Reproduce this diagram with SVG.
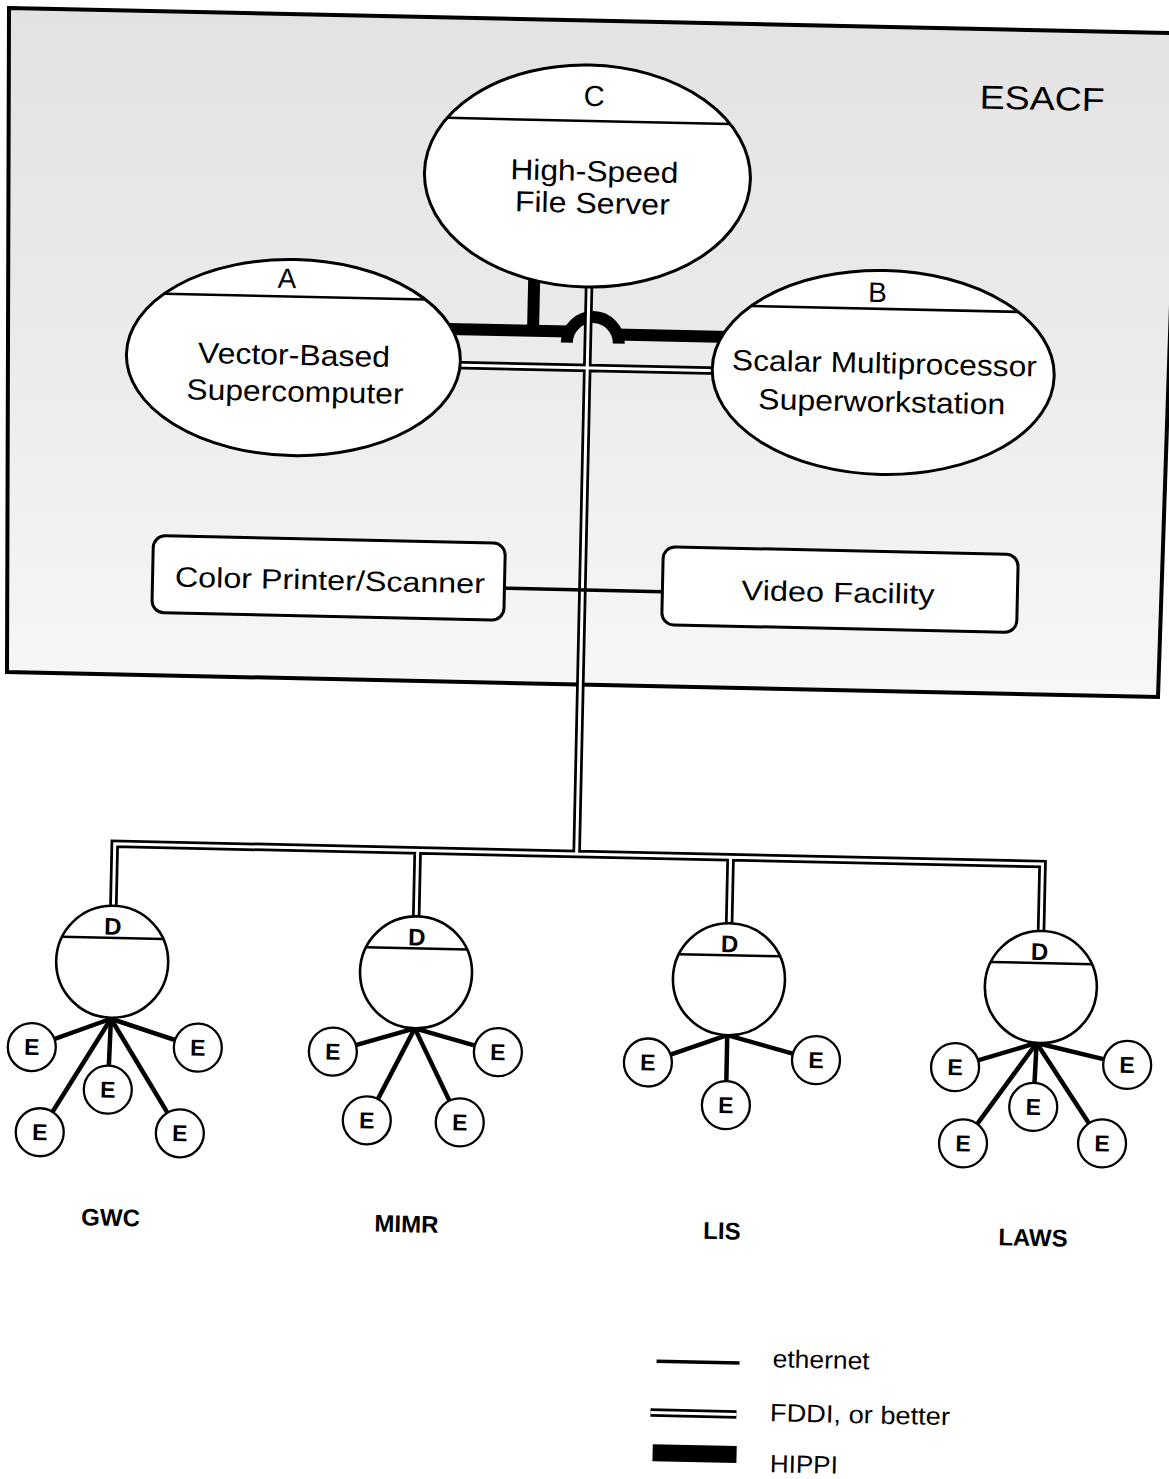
<svg xmlns="http://www.w3.org/2000/svg" width="1169" height="1479" viewBox="0 0 1169 1479">
<defs>
<linearGradient id="bg" x1="0" y1="0" x2="0" y2="1">
<stop offset="0" stop-color="#e2e2e2"/>
<stop offset="0.55" stop-color="#ececec"/>
<stop offset="1" stop-color="#f7f7f7"/>
</linearGradient>
<style>
.node{fill:#fff;stroke:#000;stroke-width:3}
.div{stroke:#000;stroke-width:2.5}
.t{font-family:"Liberation Sans",Arial,sans-serif;fill:#000;text-anchor:middle}
.tl{font-family:"Liberation Sans",Arial,sans-serif;fill:#000}
.b{font-weight:bold}
.fddiO{fill:none;stroke:#000;stroke-width:8.5}
.fddiI{fill:none;stroke:#fff;stroke-width:3}
.hippi{fill:none;stroke:#000;stroke-width:12}
.eth{fill:none;stroke:#000;stroke-width:3.5}
.spoke{stroke:#000;stroke-width:4.5}
.dc{fill:#fff;stroke:#000;stroke-width:2.6}
.ec{fill:#fff;stroke:#000;stroke-width:2.3}
.e{font-size:23px}
.d{font-size:24px}
</style>
</defs>
<rect width="1169" height="1479" fill="#fff"/>
<g id="esacf">
  <polygon points="9,8 1180,33.3 1158,697 7,672" fill="url(#bg)" stroke="#000" stroke-width="4" stroke-linejoin="miter"/>
</g>
<g transform="rotate(1.25 584 700)">
  <text class="t" x="1029" y="100" font-size="33" textLength="125" lengthAdjust="spacingAndGlyphs">ESACF</text>

  <g id="connectors">
    <!-- HIPPI -->
    <path class="hippi" d="M525,262 V332" stroke-width="13"/>
    <path class="hippi" d="M440,332 H562"/>
    <path class="hippi" d="M559,343 A26,26 0 0 1 611,343" stroke-width="13"/>
    <path class="hippi" d="M608,334 H722"/>
    <!-- FDDI -->
    <path class="fddiO" d="M118,922 V854 H1046 V924 M421,854 V924 M734,854 V924 M580,280 V854 M445,368 H712"/>
    <path class="fddiI" d="M118,922 V854 H1046 V924 M421,854 V924 M734,854 V924 M580,280 V854 M445,368 H712"/>
    <!-- ethernet between peripherals -->
    <path class="eth" d="M502,590 H660"/>
    <!-- ethernet spokes -->
    <g class="spoke">
      <line x1="118" y1="1029" x2="39.5" y2="1059"/>
      <line x1="118" y1="1029" x2="205.5" y2="1056"/>
      <line x1="118" y1="1029" x2="116.4" y2="1100"/>
      <line x1="118" y1="1029" x2="49.3" y2="1144"/>
      <line x1="118" y1="1029" x2="189.4" y2="1142"/>
      <line x1="422" y1="1032" x2="340.6" y2="1057"/>
      <line x1="422" y1="1032" x2="505.6" y2="1054"/>
      <line x1="422" y1="1032" x2="376" y2="1125"/>
      <line x1="422" y1="1032" x2="469" y2="1125"/>
      <line x1="734.5" y1="1032" x2="655.8" y2="1061"/>
      <line x1="734.5" y1="1032" x2="823.8" y2="1055"/>
      <line x1="734.5" y1="1032" x2="734.7" y2="1102"/>
      <line x1="1044" y1="1033" x2="963" y2="1059"/>
      <line x1="1044" y1="1033" x2="1135" y2="1053"/>
      <line x1="1044" y1="1033" x2="1042" y2="1097"/>
      <line x1="1044" y1="1033" x2="972.6" y2="1135"/>
      <line x1="1044" y1="1033" x2="1111.6" y2="1132"/>
    </g>
  </g>

  <g id="nodeC">
    <ellipse class="node" cx="576" cy="176" rx="163" ry="111"/>
    <line class="div" x1="434.4" y1="121" x2="717.6" y2="121"/>
    <text class="t" x="581" y="106" font-size="29">C</text>
    <text class="t" x="582.8" y="181" font-size="29" textLength="168" lengthAdjust="spacingAndGlyphs">High-Speed</text>
    <text class="t" x="581.5" y="213" font-size="29" textLength="155" lengthAdjust="spacingAndGlyphs">File Server</text>
  </g>

  <g id="nodeA">
    <ellipse class="node" cx="286" cy="364" rx="167" ry="98"/>
    <line class="div" x1="155.3" y1="303" x2="416.7" y2="303"/>
    <text class="t" x="278" y="294.5" font-size="28">A</text>
    <text class="t" x="286.6" y="371.3" font-size="29" textLength="192" lengthAdjust="spacingAndGlyphs">Vector-Based</text>
    <text class="t" x="288.4" y="408" font-size="29" textLength="217" lengthAdjust="spacingAndGlyphs">Supercomputer</text>
  </g>

  <g id="nodeB">
    <ellipse class="node" cx="876" cy="366" rx="171" ry="102"/>
    <line class="div" x1="742.2" y1="302.5" x2="1009.8" y2="302.5"/>
    <text class="t" x="868.7" y="295.6" font-size="28">B</text>
    <text class="t" x="877" y="366.8" font-size="29" textLength="305" lengthAdjust="spacingAndGlyphs">Scalar Multiprocessor</text>
    <text class="t" x="875.2" y="405.3" font-size="29" textLength="247" lengthAdjust="spacingAndGlyphs">Superworkstation</text>
  </g>

  <g id="printer">
    <rect class="node" x="150" y="545" width="352" height="77" rx="12"/>
    <text class="t" x="327.4" y="595.5" font-size="28" textLength="310" lengthAdjust="spacingAndGlyphs">Color Printer/Scanner</text>
  </g>

  <g id="video">
    <rect class="node" x="660" y="545" width="355" height="78" rx="12"/>
    <text class="t" x="835.6" y="596.5" font-size="28" textLength="193" lengthAdjust="spacingAndGlyphs">Video Facility</text>
  </g>

  <g id="GWC">
    <circle class="dc" cx="118" cy="972" r="56"/>
    <line class="div" x1="67.4" y1="948" x2="168.6" y2="948"/>
    <text class="t b d" x="118" y="945">D</text>
    <circle class="ec" cx="39.5" cy="1059" r="24"/><text class="t b e" x="39.5" y="1067">E</text>
    <circle class="ec" cx="205.5" cy="1056" r="24"/><text class="t b e" x="205.5" y="1064">E</text>
    <circle class="ec" cx="116.4" cy="1100" r="24"/><text class="t b e" x="116.4" y="1108">E</text>
    <circle class="ec" cx="49.3" cy="1144" r="24"/><text class="t b e" x="49.3" y="1152">E</text>
    <circle class="ec" cx="189.4" cy="1142" r="24"/><text class="t b e" x="189.4" y="1150">E</text>
    <text class="t b" x="122" y="1236" font-size="24">GWC</text>
  </g>

  <g id="MIMR">
    <circle class="dc" cx="422" cy="976" r="56"/>
    <line class="div" x1="371.4" y1="952" x2="472.6" y2="952"/>
    <text class="t b d" x="422" y="949">D</text>
    <circle class="ec" cx="340.6" cy="1057" r="24"/><text class="t b e" x="340.6" y="1065">E</text>
    <circle class="ec" cx="505.6" cy="1054" r="24"/><text class="t b e" x="505.6" y="1062">E</text>
    <circle class="ec" cx="376" cy="1125" r="24"/><text class="t b e" x="376" y="1133">E</text>
    <circle class="ec" cx="469" cy="1125" r="24"/><text class="t b e" x="469" y="1133">E</text>
    <text class="t b" x="418" y="1236" font-size="24">MIMR</text>
  </g>

  <g id="LIS">
    <circle class="dc" cx="735" cy="976" r="56"/>
    <line class="div" x1="684.4" y1="952" x2="785.6" y2="952"/>
    <text class="t b d" x="735" y="949">D</text>
    <circle class="ec" cx="655.8" cy="1061" r="24"/><text class="t b e" x="655.8" y="1069">E</text>
    <circle class="ec" cx="823.8" cy="1055" r="24"/><text class="t b e" x="823.8" y="1063">E</text>
    <circle class="ec" cx="734.7" cy="1102" r="24"/><text class="t b e" x="734.7" y="1110">E</text>
    <text class="t b" x="733.5" y="1236" font-size="24">LIS</text>
  </g>

  <g id="LAWS">
    <circle class="dc" cx="1047" cy="977" r="56"/>
    <line class="div" x1="996.4" y1="953" x2="1097.6" y2="953"/>
    <text class="t b d" x="1045" y="950">D</text>
    <circle class="ec" cx="963" cy="1059" r="24"/><text class="t b e" x="963" y="1067">E</text>
    <circle class="ec" cx="1135" cy="1053" r="24"/><text class="t b e" x="1135" y="1061">E</text>
    <circle class="ec" cx="1042" cy="1097" r="24"/><text class="t b e" x="1042" y="1105">E</text>
    <circle class="ec" cx="972.6" cy="1135" r="24"/><text class="t b e" x="972.6" y="1143">E</text>
    <circle class="ec" cx="1111.6" cy="1132" r="24"/><text class="t b e" x="1111.6" y="1140">E</text>
    <text class="t b" x="1044.6" y="1236" font-size="24">LAWS</text>
  </g>

  <g id="legend">
    <path class="eth" d="M671,1359.5 H754"/>
    <text class="tl" x="787" y="1363" font-size="25" textLength="97" lengthAdjust="spacingAndGlyphs">ethernet</text>
    <path class="fddiO" d="M666,1411 H752"/>
    <path class="fddiI" d="M666,1411 H752"/>
    <text class="tl" x="785.5" y="1417" font-size="25" textLength="180" lengthAdjust="spacingAndGlyphs">FDDI, or better</text>
    <rect x="669" y="1442.5" width="84" height="17" fill="#000"/>
    <text class="tl" x="786.5" y="1468" font-size="25" textLength="68" lengthAdjust="spacingAndGlyphs">HIPPI</text>
  </g>
</g>
</svg>
